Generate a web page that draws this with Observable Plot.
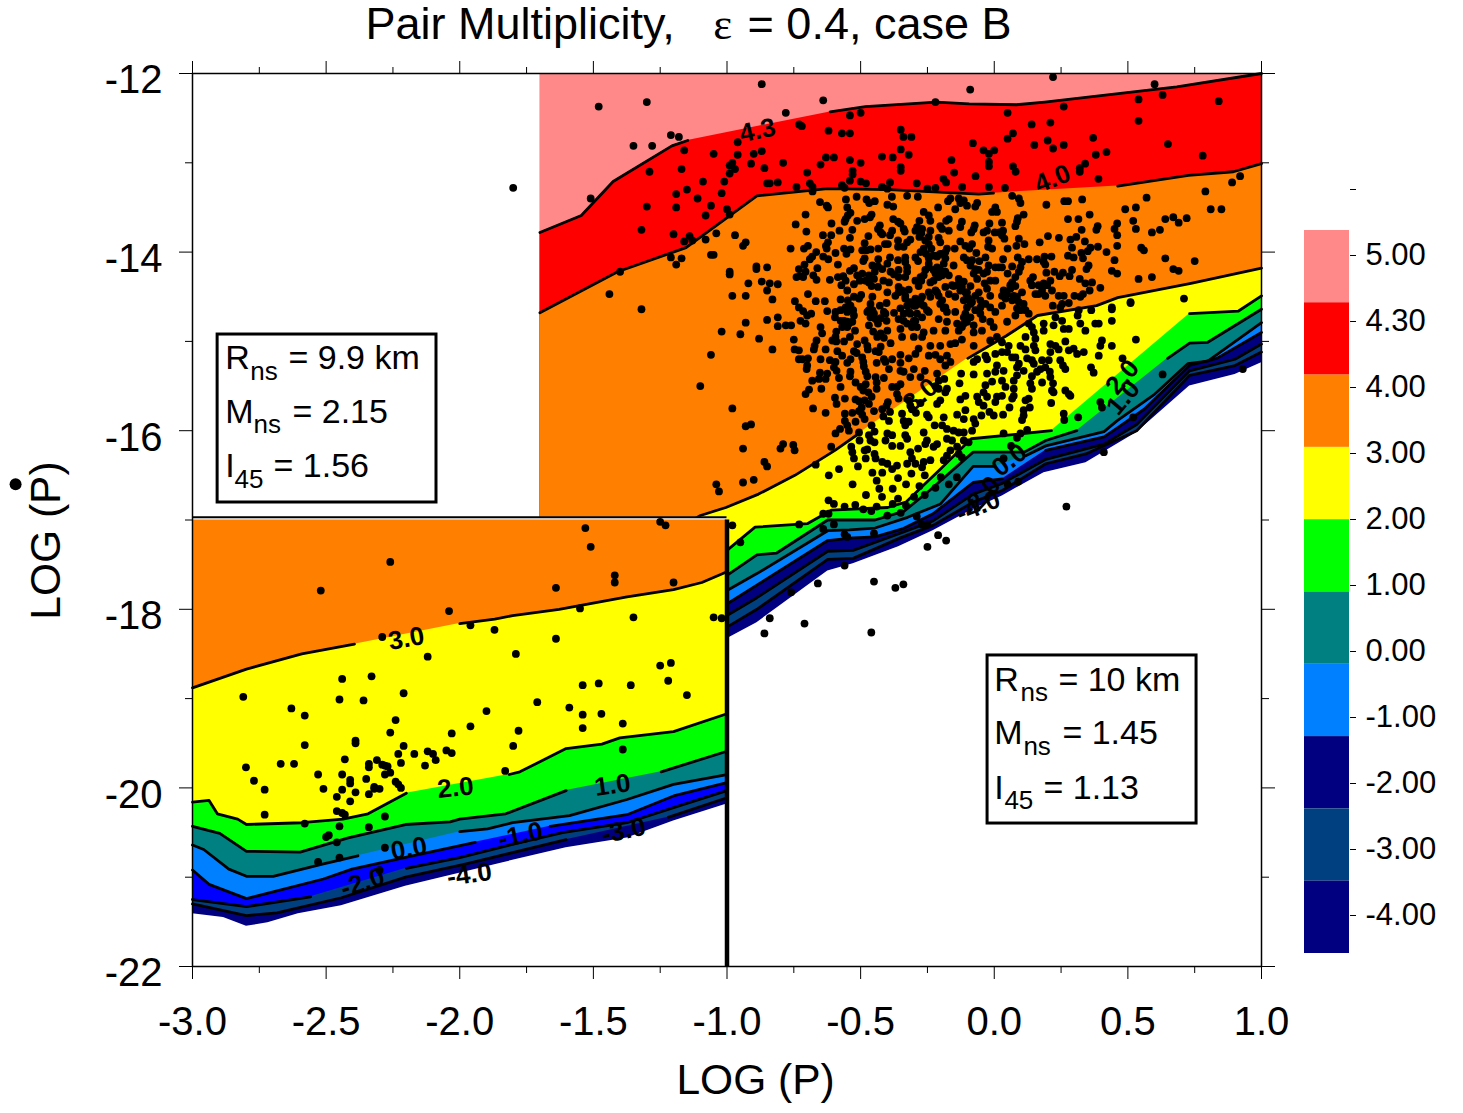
<!DOCTYPE html>
<html><head><meta charset="utf-8">
<script src="https://cdn.jsdelivr.net/npm/d3@7"></script>
<script src="https://cdn.jsdelivr.net/npm/@observablehq/plot@0.6"></script>
<style>body{margin:0;background:#fff;position:relative;width:1463px;height:1113px;overflow:hidden}#c,#l,#k{position:absolute}#c{left:0;top:0}#l,#k{left:1280px;top:100px}svg{overflow:visible}</style>
</head><body><div id="c"></div><div id="l"></div><div id="k"></div>
<script>
const _ = null; // pen-up between contour vertices (a contour label sits in the gap)
// right-hand panel (Rns = 10 km) contours
const r43=[[-1.7,-13.78],[-1.545,-13.59],[-1.426,-13.21],[-1.206,-12.81],[-1.147,-12.75],_,[-0.614,-12.43],[-0.482,-12.37],[-0.217,-12.32],[-0.094,-12.34],[0.083,-12.35],[0.189,-12.32],[0.683,-12.15],[1,-12]];
const r40=[[-1.7,-14.68],[-1.409,-14.22],[-1.153,-13.95],[-0.888,-13.37],[-0.623,-13.29],[-0.394,-13.3],[-0.058,-13.35],[-0.003,-13.34],_,[0.462,-13.26],[0.727,-13.14],[0.895,-13.1],[1,-13.01]];
const r30=[[-1.7,-18],[-1.099,-16.95],[-1.004,-16.86],[-0.882,-16.71],[-0.746,-16.5],[-0.596,-16.22],[-0.501,-16.02],_,[-0.099,-15.19],[0.044,-14.94],[0.162,-14.71],[0.383,-14.6],[0.462,-14.51],[0.736,-14.35],[1,-14.18]];
const r20=[[-1,-17.34],[-0.895,-17.08],[-0.698,-17.04],[-0.61,-16.89],[-0.399,-16.86],[-0.331,-16.8],[-0.201,-16.43],[-0.086,-16.09],[0.214,-16],_,[0.731,-14.69],[0.914,-14.66],[1,-14.49]];
const r10=[[-1,-17.62],[-0.888,-17.39],[-0.814,-17.37],[-0.623,-17],[-0.446,-17],[-0.337,-16.9],[-0.242,-16.67],[-0.079,-16.24],[0.112,-16.24],[0.193,-16.11],[0.309,-16],_,[0.649,-15.19],[0.731,-15.02],[0.799,-15.01],[1,-14.64]];
const r00=[[-1,-17.79],[-0.888,-17.6],[-0.623,-17.12],[-0.542,-17.11],[-0.446,-17.09],[-0.324,-16.97],[-0.201,-16.82],[-0.079,-16.4],[0.003,-16.4],_,[0.118,-16.28],[0.193,-16.17],[0.411,-16.01],[0.459,-15.89],[0.601,-15.59],[0.724,-15.25],[0.799,-15.22],[1,-14.79]];
const r_1=[[-1,-17.94],[-0.623,-17.23],[-0.528,-17.2],[-0.446,-17.19],[-0.344,-17.1],[-0.229,-16.93],[-0.079,-16.58],[0.03,-16.54],_,[0.193,-16.22],[0.411,-16.07],[0.465,-15.96],[0.561,-15.76],[0.731,-15.27],[0.833,-15.19],[1,-14.9]];
const r_2=[[-1,-18.07],[-0.888,-17.87],[-0.623,-17.35],[-0.528,-17.34],[-0.344,-17.14],[-0.229,-17.01],[-0.079,-16.71],[0.03,-16.59],[0.193,-16.32],[0.411,-16.15],[0.533,-15.93],[0.731,-15.33],[0.901,-15.2],[1,-15.03]];
const r_3=[[-1,-18.2],[-0.888,-18],[-0.623,-17.44],[-0.528,-17.43],[-0.351,-17.2],[-0.229,-17.06],[-0.079,-16.8],[0.03,-16.67],[0.193,-16.37],[0.343,-16.26],[0.533,-16],[0.731,-15.38],[0.901,-15.27],[1,-15.12]];
const r_4=[[-1,-18.33],[-0.888,-18.15],[-0.623,-17.57],[-0.528,-17.49],[-0.358,-17.3],[-0.229,-17.12],[-0.079,-16.88],[0.03,-16.73],[0.186,-16.47],[0.343,-16.36],[0.533,-16.02],[0.731,-15.5],[0.901,-15.37],[1,-15.24]];
// left-hand panel (Rns = 9.9 km) contours
const l30=[[-3,-18.88],[-2.798,-18.67],[-2.591,-18.5],[-2.394,-18.39],_,[-2,-18.16],[-1.869,-18.11],[-1.802,-18.07],[-1.628,-18],[-1.374,-17.86],[-1.2,-17.78],[-1.094,-17.7],[-1,-17.58]];
const l20=[[-3,-20.16],[-2.938,-20.14],[-2.907,-20.29],[-2.831,-20.35],[-2.798,-20.41],[-2.591,-20.39],[-2.437,-20.35],[-2.343,-20.29],[-2.2,-20.06],_,[-1.815,-19.85],[-1.775,-19.82],[-1.602,-19.56],[-1.468,-19.51],[-1.401,-19.44],[-1.2,-19.37],[-1,-19.17]];
const l10=[[-3,-20.43],[-2.898,-20.51],[-2.798,-20.71],[-2.597,-20.72],[-2.417,-20.56],[-2.203,-20.41],[-2.036,-20.38],[-2,-20.35],[-1.828,-20.29],[-1.602,-20.03],_,[-1.246,-19.82],[-1,-19.59]];
const l00=[[-3,-20.64],[-2.958,-20.69],[-2.864,-20.91],[-2.798,-20.99],[-2.698,-20.99],[-2.51,-20.85],[-2.381,-20.76],_,[-2,-20.49],[-1.896,-20.46],[-1.802,-20.39],[-1.589,-20.31],[-1.374,-20.13],[-1.2,-19.96],[-1,-19.85]];
const l_1=[[-3,-20.92],[-2.938,-21.08],[-2.798,-21.24],[-2.51,-21.02],[-2.403,-20.91],[-2.19,-20.77],[-1.942,-20.61],_,[-1.662,-20.43],[-1.374,-20.3],[-1.2,-20.09],[-1,-19.94]];
const l_2=[[-3,-21.25],[-2.798,-21.33],[-2.558,-21.22],_,[-2.2,-20.9],[-2,-20.78],[-1.8,-20.63],[-1.615,-20.5],[-1.374,-20.39],[-1.2,-20.22],[-1,-20.03]];
const l_3=[[-3,-21.3],[-2.798,-21.43],[-2.684,-21.4],[-2.443,-21.23],[-2.203,-21],[-1.976,-20.85],[-1.602,-20.58],_,[-1.22,-20.33],[-1,-20.11]];
const l_4=[[-3,-21.41],[-2.884,-21.45],[-2.798,-21.55],[-2.718,-21.51],[-2.604,-21.41],[-2.443,-21.32],[-2.203,-21.1],[-1.842,-20.84],[-1.602,-20.67],[-1.374,-20.56],[-1.2,-20.37],[-1,-20.18]];

const colPink="#ff8888",colRed="#ff0000",colOrange="#ff8000",colYellow="#ffff00",colGreen="#00ff00",colTeal="#008080",colLight="#0080ff",colNavy="#000080",colMid="#004080",colBlue="#0000ff";

const ptsLeft=[[-1.25,-17.02],[-1.23,-17.06],[-1.53,-17.09],[-1.51,-17.3],[-2.26,-17.47],[-1.42,-17.62],[-1.42,-17.7],[-1.2,-17.7],[-1.64,-17.76],[-2.52,-17.79],[-2.04,-18.02],[-1.55,-17.99],[-2.29,-18.31],[-1.96,-18.18],[-1.87,-18.23],[-1.35,-18.09],[-1.05,-18.09],[-1.02,-18.1],[-1.64,-18.33],[-2.12,-18.53],[-1.79,-18.5],[-1.25,-18.63],[-1.21,-18.6],[-2.44,-18.78],[-2.33,-18.75],[-2.81,-18.98],[-1.54,-18.85],[-1.48,-18.83],[-1.36,-18.85],[-1.22,-18.8],[-2.21,-18.94],[-2.45,-19.01],[-2.36,-19.02],[-1.15,-18.96],[-1.71,-19.04],[-2.63,-19.11],[-2.58,-19.19],[-1.9,-19.14],[-1.59,-19.1],[-1.54,-19.18],[-1.47,-19.17],[-2.24,-19.24],[-1.39,-19.28],[-1.54,-19.33],[-1.96,-19.31],[-2.26,-19.38],[-2.03,-19.39],[-1.78,-19.36],[-2.39,-19.47],[-2.39,-19.5],[-2.58,-19.52],[-2.21,-19.53],[-1.8,-19.53],[-1.39,-19.57],[-2.23,-19.62],[-2.17,-19.62],[-2.12,-19.59],[-2.1,-19.62],[-2.05,-19.58],[-2.03,-19.61],[-2.67,-19.73],[-2.62,-19.73],[-2.43,-19.68],[-2.8,-19.77],[-2.22,-19.72],[-2.31,-19.69],[-2.34,-19.73],[-2.34,-19.77],[-2.29,-19.74],[-2.28,-19.75],[-2.27,-19.76],[-2.13,-19.75],[-2.09,-19.69],[-2.77,-19.92],[-2.73,-20.02],[-2.53,-19.85],[-2.44,-19.85],[-2.41,-19.91],[-2.41,-19.95],[-2.35,-19.9],[-2.28,-19.85],[-2.26,-19.83],[-2.24,-19.93],[-2.23,-19.96],[-2.22,-20],[-1.83,-19.81],[-2.51,-20.01],[-2.44,-20.02],[-2.39,-20.05],[-2.34,-20.07],[-2.32,-19.99],[-2.32,-20.01],[-2.3,-20.01],[-2.46,-20.1],[-2.41,-20.15],[-2.46,-20.26],[-2.44,-20.28],[-2.43,-20.3],[-2.73,-20.3],[-2.28,-20.32],[-2.58,-20.4],[-2.45,-20.43],[-2.34,-20.44],[-2.49,-20.53],[-2.5,-20.55],[-2.46,-20.61],[-2.28,-20.67],[-2.53,-20.83],[-2.45,-20.78],[-2.3,-20.92]];
const ptsUpper=[[-1.8,-13.28],[-1.48,-12.37],[-1.3,-12.32],[-0.87,-12.12],[-0.64,-12.3],[-0.78,-12.44],[-0.09,-12.18],[0.22,-12.04],[0.6,-12.12],[0.63,-12.24],[0.54,-12.29],[0.84,-12.31],[0.26,-12.37],[-0.22,-12.32],[0.05,-12.44],[0.54,-12.53],[-0.54,-12.47],[-0.5,-12.44],[-0.73,-12.57],[-0.72,-12.59],[-0.62,-12.64],[-0.57,-12.67],[-0.54,-12.67],[-0.35,-12.63],[-0.34,-12.71],[-0.31,-12.71],[0.14,-12.57],[0.21,-12.55],[0.07,-12.67],[0.05,-12.73],[0.2,-12.75],[0.15,-12.8],[0.22,-12.84],[0.26,-12.8],[0.37,-12.72],[0.65,-12.79],[-0.08,-12.78],[-1.21,-12.69],[-1.18,-12.71],[-1.35,-12.81],[-1.28,-12.81],[-1.16,-12.86],[-0.96,-12.77],[-0.9,-12.9],[-0.87,-12.87],[-0.96,-12.91],[-1.05,-12.9],[-0.35,-12.85],[-0.32,-12.91],[-0.42,-12.93],[-0.38,-12.94],[-0.63,-12.94],[-0.6,-12.94],[-0.54,-12.97],[-0.5,-13],[-0.65,-13.02],[-0.04,-12.86],[0,-12.86],[-0.02,-12.9],[-0.16,-12.97],[-0.02,-12.99],[-0.02,-13.04],[0.07,-13.04],[0.08,-13.1],[0.42,-12.88],[0.38,-12.91],[0.34,-13.01],[0.32,-13.06],[0.32,-13.1],[0.39,-13.18],[0.78,-12.92],[-1.29,-13.1],[-1.17,-13.07],[-0.79,-13],[-0.86,-13.06],[-0.91,-13.01],[-0.98,-13],[-0.99,-13.03],[-0.97,-13.07],[-0.99,-13.12],[-1.01,-13.21],[-1.09,-13.21],[-1.15,-13.3],[-1.19,-13.35],[-1.51,-13.4],[-1.11,-13.4],[-1.02,-13.34],[-0.7,-13.11],[-0.53,-13.09],[-0.53,-13.13],[-0.35,-13.05],[-0.35,-13.09],[-0.15,-13.11],[-0.07,-13.15],[-0.85,-13.23],[-0.84,-13.23],[-0.81,-13.22],[-0.74,-13.27],[-0.69,-13.23],[-0.68,-13.27],[-0.68,-13.32],[-0.57,-13.25],[-0.56,-13.28],[-0.54,-13.2],[-0.5,-13.21],[-0.48,-13.23],[-0.42,-13.27],[-0.39,-13.22],[-0.4,-13.29],[-0.29,-13.23],[-0.25,-13.29],[-0.22,-13.28],[-0.19,-13.18],[-0.18,-13.22],[-0.12,-13.27],[-0.02,-13.27],[0.04,-13.28],[-1.3,-13.49],[-1.19,-13.5],[-1.06,-13.48],[-1,-13.52],[-1.08,-13.59],[-0.99,-13.58],[-1.32,-13.75],[-1.2,-13.8],[-1.16,-13.88],[-1.14,-13.82],[-1.13,-13.87],[-1.04,-13.79],[-1.08,-13.86],[-0.97,-13.81],[-0.93,-13.89],[-0.94,-13.93],[-1.06,-14.03],[-1.05,-14.03],[-1.21,-14.06],[-1.17,-14.07],[-1.19,-14.14],[-1.4,-14.22],[-1.44,-14.47],[-1.32,-14.64],[-0.99,-14.22],[-0.99,-14.25],[-0.89,-14.16],[-0.89,-14.19],[-0.85,-14.17],[-0.92,-14.35],[-0.87,-14.33],[-0.84,-14.35],[-0.81,-14.36],[-0.85,-14.43],[-0.98,-14.49],[-0.93,-14.49],[-0.83,-14.53],[-0.85,-14.76],[-0.81,-14.73],[-0.93,-14.79],[-0.81,-14.83],[-0.78,-14.82],[-1.02,-14.89],[-0.95,-14.92],[-0.88,-14.97],[-0.83,-15.09],[-1.06,-15.15],[-1.1,-15.5],[-0.98,-15.75],[-0.93,-15.95],[-0.91,-15.93],[-0.94,-16.2],[-0.8,-16.2],[-0.79,-16.15],[-0.86,-16.35],[-1.04,-16.6],[-1.03,-16.68],[-0.94,-16.58],[-0.9,-16.55],[-0.85,-16.4],
[0.89,-13.22],[0.92,-13.15],[0.79,-13.32],[0.81,-13.52],[0.85,-13.52],[0.57,-13.39],[0.53,-13.5],[0.49,-13.52],[0.52,-13.65],[0.46,-13.68],[0.72,-13.62],[0.67,-13.61],[0.64,-13.63],[0.69,-13.67],[0.62,-13.75],[0.59,-13.78],[0.53,-13.74],[0.45,-13.74],[0.46,-13.81],[0.55,-13.95],[0.56,-13.98],[0.64,-14.07],[0.75,-14.1],[0.67,-14.19],[0.69,-14.21],[0.44,-14.21],[0.45,-14.09],[0.42,-14],[0.46,-13.93],[0.54,-14.3],[0.59,-14.28],[0.46,-14.24]];
const ptsBelow=[[-0.98,-17.06],[-0.95,-17.25],[-0.73,-17.05],[-0.64,-17.1],[-0.64,-16.93],[-0.62,-16.93],[-0.6,-17.05],[-0.56,-17.16],[-0.55,-17.19],[-0.56,-17.51],[-0.45,-17.15],[-0.29,-16.96],[-0.27,-17.05],[-0.25,-17.05],[-0.25,-17.3],[-0.21,-17.17],[-0.18,-17.23],[-0.66,-17.71],[-0.76,-17.81],[-0.84,-18.1],[-0.86,-18.27],[-0.71,-18.16],[-0.45,-17.69],[-0.37,-17.76],[-0.34,-17.72],[-0.46,-18.26],[0.27,-16.85],[0.05,-16.6],[0.09,-16.57],[0.41,-16.24],[0.52,-15.85],[0.63,-15.37],[0.93,-15.31]];
const ptsYellowEdge=[[0.71,-14.52],[0.53,-14.98],[0.51,-14.56],[0.44,-14.62],[0.44,-14.77],[0.44,-15.05],[0.48,-15.19],[0.44,-14.64],[0.51,-14.57],[-0.44,-16.56],[-0.17,-16.6],[-0.22,-16.64],[-0.28,-16.62],[-0.33,-16.6],[-0.38,-16.65],[-0.43,-16.65],[-0.48,-16.72],[-0.53,-16.6],[-0.42,-16.74],[-0.36,-16.76],[-0.3,-16.74],[-0.26,-16.72],[-0.33,-16.84],[-0.38,-16.82],[-0.44,-16.85],[-0.49,-16.88],[-0.52,-16.83],[-0.56,-16.85],[-0.6,-16.82],[-0.62,-16.78],[-0.46,-16.9],[-0.4,-16.95],[-0.35,-16.92],[-0.36,-16.53],[-0.31,-16.48],[-0.26,-16.5],[-0.2,-16.52],[-0.14,-16.52]];
const cloudA=[[-0.652,-13.44],[-0.627,-13.48],[-0.622,-13.5],[-0.555,-13.41],[-0.515,-13.38],[-0.478,-13.41],[-0.468,-13.45],[-0.447,-13.43],[-0.383,-13.38],[-0.4,-13.47],[-0.378,-13.49],[-0.55,-13.5],[-0.538,-13.56],[-0.548,-13.59],[-0.556,-13.63],[-0.56,-13.66],[-0.459,-13.58],[-0.465,-13.61],[-0.485,-13.63],[-0.513,-13.65],[-0.706,-13.58],[-0.743,-13.69],[-0.609,-13.68],[-0.703,-13.77],[-0.641,-13.81],[-0.61,-13.81],[-0.579,-13.76],[-0.531,-13.75],[-0.54,-13.84],[-0.428,-13.7],[-0.435,-13.74],[-0.425,-13.78],[-0.419,-13.8],[-0.382,-13.76],[-0.39,-13.81],[-0.378,-13.63],[-0.471,-13.82],[-0.485,-13.9],[-0.622,-13.89],[-0.63,-13.93],[-0.627,-13.96],[-0.697,-13.93],[-0.712,-13.96],[-0.762,-13.96],[-0.562,-13.96],[-0.538,-13.97],[-0.553,-14.02],[-0.494,-13.98],[-0.478,-13.98],[-0.463,-13.97],[-0.434,-13.96],[-0.409,-13.91],[-0.398,-13.91],[-0.666,-14],[-0.681,-14.05],[-0.69,-14.08],[-0.64,-14.05],[-0.621,-14.08],[-0.594,-14.01],[-0.485,-14.07],[-0.49,-14.1],[-0.434,-14.08],[-0.4,-14.13],[-0.39,-14.06],[-0.71,-14.14],[-0.731,-14.19],[-0.662,-14.18],[-0.585,-14.14],[-0.525,-14.18],[-0.54,-14.21],[-0.456,-14.15],[-0.435,-14.16],[-0.447,-14.22],[-0.419,-14.19],[-0.388,-14.22],[-0.375,-14.25],[-0.706,-14.22],[-0.715,-14.28],[-0.74,-14.28],[-0.727,-14.27],[-0.677,-14.26],[-0.665,-14.31],[-0.615,-14.31],[-0.585,-14.28],[-0.565,-14.27],[-0.556,-14.32],[-0.572,-14.37],[-0.525,-14.36],[-0.513,-14.26],[-0.494,-14.24],[-0.503,-14.32],[-0.481,-14.32],[-0.469,-14.34],[-0.459,-14.38],[-0.435,-14.39],[-0.415,-14.32],[-0.394,-14.34],[-0.55,-14.43],[-0.697,-14.47],[-0.525,-14.5],[-0.498,-14.48],[-0.506,-14.52],[-0.456,-14.5],[-0.4,-14.45],[-0.746,-14.55],[-0.668,-14.55],[-0.634,-14.55],[-0.575,-14.53],[-0.548,-14.54],[-0.538,-14.6],[-0.556,-14.62],[-0.463,-14.58],[-0.469,-14.65],[-0.428,-14.6],[-0.403,-14.57],[-0.731,-14.62],[-0.715,-14.66],[-0.685,-14.69],[-0.7,-14.71],[-0.625,-14.66],[-0.575,-14.65],[-0.594,-14.67],[-0.55,-14.67],[-0.528,-14.65],[-0.525,-14.71],[-0.45,-14.69],[-0.463,-14.73],[-0.407,-14.69],[-0.425,-14.74],[-0.375,-14.68],[-0.596,-14.73],[-0.562,-14.77],[-0.544,-14.8],[-0.725,-14.77],[-0.706,-14.8],[-0.76,-14.82],[-0.65,-14.84],[-0.591,-14.89],[-0.569,-14.84],[-0.55,-14.84],[-0.531,-14.78],[-0.469,-14.82],[-0.435,-14.8],[-0.403,-14.77],[-0.453,-14.89],[-0.425,-14.91],[-0.4,-14.88],[-0.521,-14.88],[-0.644,-14.91]];
const cloudB=[[-0.326,-13.37],[-0.286,-13.38],[-0.173,-13.43],[-0.164,-13.4],[-0.133,-13.4],[-0.114,-13.42],[-0.127,-13.45],[-0.064,-13.45],[-0.071,-13.49],[-0.102,-13.48],[-0.21,-13.5],[-0.146,-13.52],[0.004,-13.5],[-0.008,-13.55],[0.01,-13.55],[-0.264,-13.55],[-0.245,-13.59],[-0.239,-13.65],[-0.17,-13.63],[-0.18,-13.65],[-0.28,-13.65],[-0.289,-13.72],[-0.27,-13.74],[-0.295,-13.76],[-0.351,-13.68],[-0.339,-13.74],[-0.335,-13.77],[-0.36,-13.66],[-0.121,-13.66],[-0.127,-13.72],[-0.202,-13.71],[-0.195,-13.74],[-0.17,-13.76],[-0.073,-13.7],[-0.086,-13.78],[-0.077,-13.74],[-0.018,-13.68],[-0.04,-13.78],[-0.027,-13.76],[0.002,-13.78],[0.019,-13.78],[-0.239,-13.76],[-0.245,-13.83],[-0.28,-13.83],[-0.208,-13.84],[-0.202,-13.89],[-0.245,-13.91],[-0.314,-13.86],[-0.326,-13.89],[-0.339,-13.94],[-0.36,-13.87],[-0.36,-13.94],[-0.127,-13.88],[-0.083,-13.91],[-0.108,-13.93],[-0.093,-13.96],[-0.177,-13.96],[-0.148,-13.96],[-0.021,-13.87],[-0.023,-13.94],[-0.008,-13.96],[-0.264,-13.96],[-0.276,-14],[-0.255,-14.02],[-0.202,-14.02],[-0.214,-14.05],[-0.183,-14],[-0.067,-14.01],[-0.114,-14.06],[-0.245,-14.07],[-0.295,-14.06],[-0.285,-14.1],[-0.333,-14.06],[-0.333,-14.11],[-0.36,-14.09],[-0.358,-14.2],[-0.102,-14.09],[-0.083,-14.09],[-0.033,-14.06],[-0.056,-14.1],[-0.183,-14.07],[-0.189,-14.13],[-0.152,-14.15],[-0.326,-14.17],[-0.326,-14.22],[-0.089,-14.15],[-0.021,-14.15],[0.004,-14.17],[0.017,-14.17],[-0.245,-14.13],[-0.258,-14.2],[-0.214,-14.17],[-0.183,-14.22],[-0.22,-14.24],[-0.358,-14.28],[-0.333,-14.28],[-0.276,-14.28],[-0.077,-14.24],[-0.058,-14.2],[-0.027,-14.22],[-0.133,-14.3],[-0.114,-14.33],[-0.17,-14.26],[0.004,-14.32],[-0.227,-14.32],[-0.208,-14.28],[-0.295,-14.32],[-0.283,-14.38],[-0.239,-14.34],[-0.183,-14.39],[-0.358,-14.39],[-0.358,-14.45],[-0.089,-14.38],[-0.036,-14.35],[-0.027,-14.41],[-0.152,-14.38],[-0.127,-14.43],[-0.108,-14.45],[-0.22,-14.43],[-0.245,-14.45],[-0.32,-14.42],[-0.333,-14.49],[-0.295,-14.52],[-0.27,-14.5],[-0.239,-14.5],[-0.214,-14.45],[-0.071,-14.49],[-0.015,-14.49],[-0.17,-14.47],[-0.146,-14.5],[-0.114,-14.54],[-0.195,-14.54],[-0.301,-14.6],[-0.283,-14.58],[-0.351,-14.63],[-0.326,-14.6],[-0.033,-14.58],[-0.015,-14.62],[-0.089,-14.58],[-0.189,-14.63],[-0.177,-14.67],[-0.245,-14.67],[-0.339,-14.69],[-0.314,-14.69],[-0.289,-14.69],[-0.27,-14.73],[-0.146,-14.67],[-0.102,-14.62],[-0.071,-14.65],[0.004,-14.67],[-0.052,-14.69],[-0.043,-14.75],[-0.114,-14.73],[-0.089,-14.73],[-0.208,-14.75],[-0.177,-14.78],[-0.139,-14.8],[-0.102,-14.78],[-0.015,-14.78],[-0.358,-14.75],[-0.326,-14.8],[-0.295,-14.77],[-0.289,-14.84],[-0.227,-14.88],[-0.183,-14.88],[-0.133,-14.88],[-0.077,-14.82],[-0.046,-14.88],[-0.351,-14.86],[-0.002,-14.84],[-0.264,-14.9],[-0.077,-14.9]];
const cloudC=[[0.067,-13.37],[0.092,-13.4],[0.098,-13.45],[0.195,-13.47],[0.262,-13.43],[0.276,-13.43],[0.329,-13.41],[0.11,-13.58],[0.088,-13.62],[0.085,-13.66],[0.079,-13.71],[0.276,-13.63],[0.315,-13.63],[0.357,-13.58],[0.387,-13.71],[0.382,-13.75],[0.327,-13.75],[0.029,-13.67],[0.033,-13.76],[0.029,-13.81],[0.038,-13.85],[0.201,-13.82],[0.242,-13.84],[0.17,-13.89],[0.285,-13.86],[0.307,-13.83],[0.339,-13.88],[0.092,-13.85],[0.113,-13.91],[0.083,-13.93],[0.05,-13.96],[0.291,-13.95],[0.388,-13.94],[0.36,-13.95],[0.35,-13.99],[0.326,-14.01],[0.088,-14.06],[0.129,-14.08],[0.16,-14.08],[0.188,-14.05],[0.214,-14.05],[0.185,-14.11],[0.191,-14.14],[0.276,-14.04],[0.297,-14.06],[0.332,-14.07],[0.033,-14.08],[0.104,-14.11],[0.098,-14.17],[0.067,-14.16],[0.029,-14.17],[0.092,-14.22],[0.05,-14.24],[0.079,-14.28],[0.353,-14.15],[0.345,-14.19],[0.195,-14.23],[0.225,-14.22],[0.257,-14.23],[0.245,-14.27],[0.291,-14.2],[0.282,-14.27],[0.32,-14.3],[0.145,-14.28],[0.135,-14.32],[0.141,-14.37],[0.21,-14.32],[0.185,-14.35],[0.179,-14.41],[0.216,-14.43],[0.067,-14.34],[0.079,-14.38],[0.06,-14.37],[0.341,-14.35],[0.366,-14.34],[0.357,-14.43],[0.397,-14.4],[0.035,-14.43],[0.029,-14.49],[0.104,-14.45],[0.085,-14.5],[0.154,-14.47],[0.191,-14.49],[0.241,-14.49],[0.26,-14.49],[0.3,-14.49],[0.322,-14.5],[0.332,-14.47],[0.042,-14.52],[0.067,-14.54],[0.11,-14.58],[0.085,-14.63],[0.029,-14.6],[0.219,-14.6],[0.254,-14.58],[0.279,-14.57],[0.247,-14.62],[0.117,-14.65],[0.079,-14.71],[0.129,-14.69],[0.316,-14.65],[0.312,-14.71],[0.363,-14.65],[0.229,-14.73],[0.254,-14.77],[0.322,-14.8],[0.391,-14.8],[0.378,-14.8],[0.185,-14.8],[0.222,-14.82],[0.141,-14.84],[0.148,-14.9],[0.185,-14.88],[0.26,-14.86],[0.279,-14.86],[0.341,-14.88],[0.048,-14.78],[0.129,-14.8]];
const cloudD=[[-0.75,-14.98],[-0.747,-15.09],[-0.731,-15.1],[-0.731,-15.2],[-0.718,-15.2],[-0.697,-15.19],[-0.665,-14.99],[-0.672,-15.05],[-0.675,-15.09],[-0.631,-15.09],[-0.606,-14.99],[-0.594,-14.95],[-0.591,-15],[-0.562,-15],[-0.54,-14.95],[-0.513,-15.03],[-0.485,-14.99],[-0.475,-15.05],[-0.473,-15.09],[-0.438,-14.95],[-0.425,-15.06],[-0.444,-15.11],[-0.413,-14.96],[-0.388,-15.02],[-0.432,-15.12],[-0.413,-15.2],[-0.407,-15.23],[-0.382,-15.2],[-0.394,-15.31],[-0.44,-15.24],[-0.587,-15.11],[-0.569,-15.16],[-0.525,-15.11],[-0.515,-15.13],[-0.55,-15.24],[-0.538,-15.2],[-0.494,-15.18],[-0.49,-15.23],[-0.65,-15.2],[-0.615,-15.21],[-0.594,-15.23],[-0.7,-15.27],[-0.702,-15.31],[-0.6,-15.29],[-0.59,-15.33],[-0.538,-15.34],[-0.54,-15.39],[-0.488,-15.28],[-0.481,-15.34],[-0.475,-15.39],[-0.652,-15.35],[-0.625,-15.36],[-0.631,-15.42],[-0.656,-15.42],[-0.681,-15.44],[-0.581,-15.41],[-0.519,-15.46],[-0.444,-15.4],[-0.413,-15.41],[-0.44,-15.46],[-0.44,-15.53],[-0.481,-15.48],[-0.5,-15.51],[-0.49,-15.55],[-0.471,-15.57],[-0.459,-15.62],[-0.382,-15.51],[-0.693,-15.54],[-0.706,-15.59],[-0.647,-15.53],[-0.575,-15.51],[-0.596,-15.63],[-0.559,-15.64],[-0.59,-15.7],[-0.519,-15.65],[-0.506,-15.67],[-0.485,-15.66],[-0.469,-15.7],[-0.398,-15.68],[-0.403,-15.72],[-0.496,-15.74],[-0.506,-15.78],[-0.419,-15.76],[-0.45,-15.78],[-0.39,-15.79],[-0.415,-15.84],[-0.394,-15.89],[-0.678,-15.75],[-0.631,-15.8],[-0.559,-15.81],[-0.531,-15.8],[-0.559,-15.89],[-0.55,-15.94],[-0.494,-15.82],[-0.485,-15.87],[-0.519,-15.9],[-0.459,-15.94],[-0.448,-16.01],[-0.544,-16],[-0.577,-15.98],[-0.594,-16.03],[-0.506,-16.02],[-0.469,-16.05],[-0.463,-16.11],[-0.448,-16.13],[-0.4,-16.03],[-0.382,-16.05],[-0.407,-16.11],[-0.504,-16.11],[-0.752,-16.16],[-0.747,-16.22],[-0.61,-16.18],[-0.535,-16.18],[-0.531,-16.24],[-0.525,-16.31],[-0.475,-16.21],[-0.485,-16.22],[-0.448,-16.26],[-0.444,-16.31],[-0.481,-16.31],[-0.382,-16.17],[-0.419,-16.35],[-0.4,-16.37],[-0.382,-16.43],[-0.668,-16.38],[-0.581,-16.43],[-0.51,-16.4],[-0.456,-16.47],[-0.419,-16.47],[-0.619,-16.5]];
const cloudE=[[-0.345,-14.95],[-0.301,-14.95],[-0.27,-14.95],[-0.239,-15.05],[-0.202,-15.05],[-0.164,-15.03],[-0.146,-15.02],[-0.121,-14.98],[-0.077,-15.05],[-0.015,-14.99],[0.01,-14.95],[-0.283,-15.08],[-0.295,-15.14],[-0.32,-15.19],[-0.351,-15.15],[-0.351,-15.24],[-0.351,-15.33],[-0.339,-15.34],[-0.301,-15.31],[-0.26,-15.33],[-0.314,-15.4],[-0.276,-15.4],[-0.351,-15.48],[-0.364,-15.51],[-0.245,-15.16],[-0.22,-15.15],[-0.202,-15.2],[-0.177,-15.16],[-0.164,-15.23],[-0.183,-15.27],[-0.214,-15.36],[-0.187,-15.42],[-0.208,-15.44],[-0.077,-15.23],[-0.064,-15.2],[-0.027,-15.2],[-0.033,-15.16],[0.004,-15.14],[0.01,-15.27],[0.004,-15.34],[-0.124,-15.36],[-0.077,-15.37],[-0.027,-15.36],[-0.008,-15.45],[-0.033,-15.49],[-0.13,-15.47],[-0.22,-15.5],[-0.208,-15.53],[-0.183,-15.57],[-0.177,-15.53],[-0.364,-15.59],[-0.358,-15.64],[-0.276,-15.69],[-0.202,-15.66],[-0.214,-15.7],[-0.108,-15.61],[-0.127,-15.65],[-0.064,-15.62],[-0.04,-15.57],[-0.027,-15.62],[-0.058,-15.68],[-0.04,-15.72],[0.01,-15.62],[0.004,-15.68],[-0.32,-15.66],[-0.314,-15.72],[-0.308,-15.76],[-0.345,-15.81],[-0.293,-15.8],[-0.252,-15.82],[-0.245,-15.85],[-0.189,-15.85],[-0.139,-15.82],[-0.108,-15.77],[-0.114,-15.87],[-0.077,-15.87],[-0.048,-15.83],[-0.018,-15.79],[-0.002,-15.83],[-0.339,-15.89],[-0.32,-15.9],[-0.333,-15.94],[-0.223,-15.94],[-0.195,-15.94],[-0.177,-15.98],[-0.152,-16],[-0.133,-16.02],[-0.071,-15.92],[-0.083,-16],[-0.264,-16.02],[-0.114,-16.02],[-0.333,-16.05],[-0.326,-16.09],[-0.252,-16.11],[-0.258,-16.15],[-0.214,-16.15],[-0.227,-16.18],[-0.177,-16.09],[-0.158,-16.11],[-0.139,-16.18],[-0.114,-16.11],[-0.096,-16.13],[-0.351,-16.17],[-0.285,-16.2],[-0.314,-16.24],[-0.164,-16.22],[-0.177,-16.28],[-0.308,-16.31],[-0.295,-16.37],[-0.264,-16.35],[-0.239,-16.33],[-0.27,-16.41],[-0.364,-16.39],[-0.326,-16.37],[-0.189,-16.33],[-0.133,-16.26],[-0.121,-16.3]];
const cloudF=[[0.117,-14.95],[0.154,-14.97],[0.266,-15],[0.403,-14.99],[0.397,-15.05],[0.21,-15.03],[0.229,-15.05],[0.241,-15.09],[0.098,-15.05],[0.117,-15.09],[0.148,-15.05],[0.154,-15.1],[0.029,-15.01],[0.054,-15.05],[0.21,-15.12],[0.204,-15.21],[0.279,-15.1],[0.297,-15.08],[0.31,-15.14],[0.335,-15.12],[0.391,-15.16],[0.079,-15.18],[0.067,-15.18],[0.123,-15.19],[0.141,-15.21],[0.148,-15.25],[0.179,-15.21],[0.029,-15.12],[0.048,-15.12],[0.092,-15.25],[0.085,-15.29],[0.035,-15.33],[0.191,-15.29],[0.208,-15.34],[0.21,-15.4],[0.173,-15.31],[0.16,-15.34],[0.11,-15.33],[0.247,-15.21],[0.257,-15.27],[0.266,-15.31],[0.362,-15.29],[0.372,-15.35],[0.085,-15.38],[0.141,-15.39],[0.073,-15.44],[0.029,-15.44],[0.042,-15.51],[0.073,-15.53],[0.135,-15.47],[0.141,-15.53],[0.179,-15.46],[0.22,-15.47],[0.216,-15.55],[0.222,-15.57],[0.266,-15.55],[0.279,-15.59],[0.285,-15.61],[0.029,-15.61],[0.073,-15.61],[0.067,-15.64],[0.129,-15.64],[0.117,-15.66],[0.213,-15.69],[0.057,-15.74],[0.133,-15.74],[0.11,-15.77],[0.104,-15.88],[0.11,-15.83],[0.033,-15.82],[0.26,-15.81],[0.262,-15.88],[0.314,-15.85],[0.397,-15.68],[0.403,-15.74],[0.123,-15.99],[0.035,-16.03],[0.098,-16.03],[0.085,-16.08],[0.063,-16.17],[0.035,-16.31]];
const cloudBlobs=[[-0.273,-13.79],[-0.258,-13.87],[-0.235,-13.96],[-0.23,-14.04],[-0.245,-14.17],[-0.264,-14.26],[-0.273,-14.32],[-0.214,-14.04],[-0.195,-14.02],[-0.202,-14.2],[-0.227,-14.2],[-0.195,-14.26],[-0.158,-14.37],[-0.139,-14.37],[-0.121,-14.39],[-0.102,-14.45],[-0.096,-14.52],[-0.102,-14.5],[-0.083,-14.56],[-0.333,-14.52],[-0.314,-14.56],[-0.295,-14.6],[-0.276,-14.54],[-0.264,-14.6],[-0.252,-14.65],[-0.345,-14.43],[-0.37,-14.49],[-0.32,-14.67],[-0.301,-14.77],[-0.308,-14.84],[-0.339,-14.77],[-0.208,-14.49],[-0.202,-14.58],[-0.183,-14.62],[-0.108,-14.69],[-0.114,-14.8],[-0.121,-14.84],[-0.058,-14.45],[-0.052,-14.54],[-0.052,-14.62],[-0.015,-14.32],[-0.04,-14.24],[-0.064,-14.3],[-0.071,-14.19],[-0.475,-14.67],[-0.456,-14.65],[-0.444,-14.75],[-0.413,-14.67],[-0.562,-14.82],[-0.55,-14.78],[-0.575,-14.77],[-0.45,-14.3],[-0.469,-14.26],[0.06,-14.41],[0.048,-14.47],[0.073,-14.49],[0.092,-14.56],[0.098,-14.65],[0.166,-14.37],[0.198,-14.37],[0.179,-14.45],[0.166,-14.47]];

const axisFont={fontFamily:"Liberation Sans",fontSize:40,fill:"black"};
const xMajor=[-3,-2.5,-2,-1.5,-1,-0.5,0,0.5,1];
const xMinor=[-2.75,-2.25,-1.75,-1.25,-0.75,-0.25,0.25,0.75];
const yMajor=[-12,-14,-16,-18,-20,-22];
const yMinor=[-13,-15,-17,-19,-21];

const noLab=()=>"";
const bands=[[r43,colRed],[r40,colOrange],[r30,colYellow],[r20,colGreen],[r10,colTeal],[r00,colLight],[r_1,colNavy],[r_2,colMid],[r_3,colNavy],[r_4,"#ffffff"]];
const leftBands=[[l30,colYellow],[l20,colGreen],[l10,colTeal],[l00,colLight],[l_1,colBlue],[l_2,colMid],[l_3,colNavy],[l_4,"#ffffff"]];
const fillUnder=([c,col])=>Plot.area(c.filter(Boolean),{x1:d=>d[0],y1:d=>d[1],y2:-22,fill:col});
const lineOf=c=>Plot.line(c.map(d=>d||[NaN,NaN]),{x:d=>d[0],y:d=>d[1],stroke:"black",strokeWidth:2.8,strokeLinejoin:"round"});

const contourLabels=[
 ["3.0",-2.2,-18.33,-10],["2.0",-2.016,-20,-6],["1.0",-1.428,-19.97,-8],["0.0",-2.19,-20.68,-10],["-1.0",-1.773,-20.53,-12],["-3.0",-1.387,-20.48,-12],["-2.0",-2.364,-21.06,-18],["-4.0",-1.964,-20.97,-8],
 ["4.3",-0.886,-12.64,-12],["4.0",0.218,-13.18,-22],["3.0",-0.276,-15.6,-40],["2.0",0.48,-15.4,-50],["1.0",0.483,-15.63,-50],["0.0",0.057,-16.33,-38],["-2.0",-0.05,-16.74,-48],["-4.0",-0.06,-16.85,-22]];
const infoText=[
 ["R",-2.877,-15.19,34,0],["ns",-2.784,-15.19,26,13],["= 9.9 km",-2.641,-15.19,34,0],
 ["M",-2.877,-15.79,34,0],["ns",-2.772,-15.79,26,13],["= 2.15",-2.626,-15.79,34,0],
 ["I",-2.877,-16.4,34,0],["45",-2.843,-16.4,26,13],["= 1.56",-2.697,-16.4,34,0],
 ["R",-0.0,-18.79,34,0],["ns",0.098,-18.79,26,13],["= 10 km",0.24,-18.79,34,0],
 ["M",-0.0,-19.39,34,0],["ns",0.109,-19.39,26,13],["= 1.45",0.255,-19.39,34,0],
 ["I",-0.0,-20,34,0],["45",0.038,-20,26,13],["= 1.13",0.184,-20,34,0]];
const infoBoxes=[[-2.906,-2.087,-14.923,-16.804],[-0.025,0.757,-18.517,-20.399]];
const allDots=[...ptsLeft,...ptsUpper,...ptsBelow,...ptsYellowEdge,...cloudA,...cloudB,...cloudC,...cloudD,...cloudE,...cloudF,...cloudBlobs];

const chart=Plot.plot({
 width:1463,height:1113,marginLeft:192,marginRight:202,marginTop:73,marginBottom:147,
 style:{fontFamily:"Liberation Sans",background:"white",overflow:"visible"},
 x:{domain:[-3,1],label:null},y:{domain:[-22,-12],label:null},
 marks:[
  Plot.rect([0],{x1:-1.7,x2:1,y1:-12,y2:-17,fill:colPink}),
  ...bands.map(fillUnder),
  ...[r43,r40,r30,r20,r10,r00,r_1,r_2,r_3].map(lineOf),
  Plot.rect([0],{x1:-3,x2:-1,y1:-16.97,y2:-22,fill:"white"}),
  Plot.rect([0],{x1:-3,x2:-1,y1:-17,y2:-22,fill:colOrange}),
  ...leftBands.map(fillUnder),
  ...[l30,l20,l10,l00,l_1,l_2,l_3].map(lineOf),
  Plot.ruleY([-16.97],{x1:-3,x2:-1,stroke:"black",strokeWidth:2}),
  Plot.ruleX([-1],{y1:-17,y2:-22,stroke:"black",strokeWidth:4.5}),
  Plot.dot(allDots,{x:d=>d[0],y:d=>d[1],r:3.9,fill:"black",stroke:"none"}),
  Plot.text(contourLabels,{text:d=>d[0],x:d=>d[1],y:d=>d[2],rotate:d=>d[3],fontSize:26,fontWeight:"bold",fill:"black",fontFamily:"Liberation Sans"}),
  Plot.rect(infoBoxes,{x1:d=>d[0],x2:d=>d[1],y1:d=>d[2],y2:d=>d[3],fill:"white",stroke:"black",strokeWidth:3}),
  ...[34,26].flatMap(fs=>[0,13].map(dy=>Plot.text(infoText.filter(d=>d[3]===fs&&d[4]===dy),{text:d=>d[0],x:d=>d[1],y:d=>d[2],fontSize:fs,dy,textAnchor:"start",fill:"black"}))),
  Plot.frame({stroke:"black",strokeWidth:1.5}),
  Plot.axisX({anchor:"bottom",ticks:xMajor,tickSize:13,tickPadding:27,tickFormat:d=>d.toFixed(1),label:null,...axisFont}),
  Plot.axisX({anchor:"bottom",ticks:xMinor,tickSize:7,tickFormat:noLab,label:null}),
  Plot.axisX({anchor:"top",ticks:xMajor,tickSize:13,tickFormat:noLab,label:null}),
  Plot.axisX({anchor:"top",ticks:xMinor,tickSize:7,tickFormat:noLab,label:null}),
  Plot.axisY({anchor:"left",ticks:yMajor,tickSize:13,tickFormat:noLab,label:null}),
  Plot.axisY({anchor:"left",ticks:yMajor,tickSize:0,tickPadding:30,dy:7,tickFormat:d=>String(d),label:null,...axisFont}),
  Plot.axisY({anchor:"left",ticks:yMinor,tickSize:7,tickFormat:noLab,label:null}),
  Plot.axisY({anchor:"right",ticks:yMajor,tickSize:13,tickFormat:noLab,label:null}),
  Plot.axisY({anchor:"right",ticks:yMinor,tickSize:7,tickFormat:noLab,label:null}),
  Plot.text(["Pair Multiplicity,"],{x:-2.353,y:-11.455,textAnchor:"start",fontSize:45,fill:"black"}),
  Plot.text(["ε"],{x:-1.051,y:-11.455,textAnchor:"start",fontSize:45,fontFamily:"Liberation Serif",fill:"black"}),
  Plot.text(["= 0.4, case B"],{x:-0.923,y:-11.455,textAnchor:"start",fontSize:45,fill:"black"}),
  Plot.text(["LOG (P)"],{x:-0.893,y:-23.28,fontSize:42.5,fill:"black"}),
  Plot.text(["LOG (P)"],{x:-3.546,y:-17.23,fontSize:42.5,rotate:-90,fill:"black"}),
  Plot.dot([0],{x:-3.662,y:-16.6,r:6,fill:"black",stroke:"none"})
 ]
});
document.getElementById("c").appendChild(chart);

// colour key: ten swatches beside eleven independently spaced tick labels
const swatchFill=[colPink,colRed,colOrange,colYellow,colGreen,colTeal,colLight,colNavy,colMid,colNavy];
const keyLabels=["5.00","4.30","4.00","3.00","2.00","1.00","0.00","-1.00","-2.00","-3.00","-4.00"];
const swatches=Plot.plot({
 width:183,height:870,marginLeft:24,marginRight:114,marginTop:130,marginBottom:17,
 style:{background:"transparent",overflow:"visible"},
 x:{type:"band",domain:["swatch"],padding:0,round:false,label:null,axis:null},
 y:{type:"band",domain:swatchFill.map((c,i)=>i),padding:0,round:false,label:null,axis:null},
 marks:[Plot.cell(swatchFill,{x:()=>"swatch",y:(d,i)=>i,fill:d=>d})]
});
document.getElementById("l").appendChild(swatches);
const keyAxis=Plot.plot({
 width:183,height:870,marginLeft:24,marginRight:114,marginTop:56,marginBottom:22,
 style:{fontFamily:"Liberation Sans",background:"transparent",overflow:"visible"},
 x:{type:"band",domain:["swatch"],padding:0,round:false,label:null,axis:null},
 y:{type:"band",domain:[" ",...keyLabels],padding:0,round:false,label:null,axis:null},
 marks:[Plot.axisY({anchor:"right",tickSize:6,tickPadding:10,fontSize:31,fill:"black",label:null,tickFormat:d=>d})]
});
document.getElementById("k").appendChild(keyAxis);
</script></body></html>
